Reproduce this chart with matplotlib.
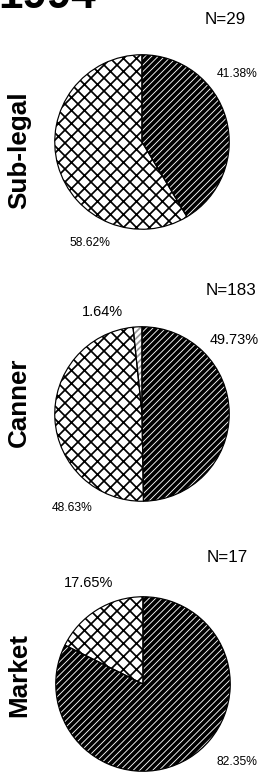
import matplotlib
matplotlib.use("Agg")
import matplotlib.pyplot as plt

# Data
year = "1994"
groups = ["Sub-legal", "Canner", "Market"]
counts = [29, 183, 17]
dark_pct = [41.38, 49.73, 82.35]
cross_pct = [58.62, 48.63, 17.65]
light_pct = [0.0, 1.64, 0.0]

W, H = 269, 774
DPI = 78
plt.rcParams["font.family"] = ["Liberation Sans", "DejaVu Sans"]

def pt(px):
	"""Convert a pixel size to points at the figure dpi."""
	return px * 72 / DPI

def fx(x):
	return x / W

def fy(y):
	return 1 - y / H

fig = plt.figure(figsize=(W / DPI, H / DPI), dpi=DPI)
fig.patch.set_facecolor("white")

# pie centres in pixels
centres = [(142, 142), (142, 414), (143, 684)]
R = 89

for i, name in enumerate(groups):
	cx, cy = centres[i]
	ax = fig.add_axes([fx(cx - R), fy(cy + R), 2 * R / W, 2 * R / H])
	vals = [dark_pct[i], cross_pct[i]]
	faces = ["black", "white"]
	hatches = ["////", "xx"]
	hcols = ["white", "black"]
	if light_pct[i] > 0:
		vals.append(light_pct[i])
		faces.append("white")
		hatches.append("////")
		hcols.append("#999999")
	wedges, _ = ax.pie(vals, startangle=90, counterclock=False, radius=1)
	for w, fc, h, hc in zip(wedges, faces, hatches, hcols):
		w.set_facecolor(fc)
		w.set_edgecolor(hc)
		w.set_hatch(h)
		w.set_linewidth(0)
		if hasattr(w, "set_hatch_linewidth"):
			w.set_hatch_linewidth(0.8 if fc == "black" else 1.6)
	# outlines drawn on top
	ax.pie(vals, startangle=90, counterclock=False, radius=1,
		wedgeprops=dict(fill=False, edgecolor="black", linewidth=1.1))
	ax.set_xlim(-1.02, 1.02)
	ax.set_ylim(-1.02, 1.02)
	ax.set_aspect("equal")
	ax.axis("off")

# row labels
label_y = [150, 402, 675]
for name, y in zip(groups, label_y):
	fig.text(fx(19), fy(y), name, rotation=90, ha="center", va="center",
		fontsize=pt(26), fontweight="bold")

# sample sizes
n_pos = [(225, 20), (231, 290), (227, 557)]
for n, (x, y) in zip(counts, n_pos):
	fig.text(fx(x), fy(y), f"N={n}", ha="center", va="center", fontsize=pt(17))

# percentage labels
fig.text(fx(237), fy(74), f"{dark_pct[0]:.2f}%", ha="center", va="center", fontsize=pt(12))
fig.text(fx(90), fy(243), f"{cross_pct[0]:.2f}%", ha="center", va="center", fontsize=pt(12))
fig.text(fx(102), fy(312), f"{light_pct[1]:.2f}%", ha="center", va="center", fontsize=pt(14.5))
fig.text(fx(234), fy(340), f"{dark_pct[1]:.2f}%", ha="center", va="center", fontsize=pt(14.5))
fig.text(fx(72), fy(508), f"{cross_pct[1]:.2f}%", ha="center", va="center", fontsize=pt(12))
fig.text(fx(89), fy(583), f"{cross_pct[2]:.2f}%", ha="center", va="center", fontsize=pt(14.5))
fig.text(fx(237), fy(762), f"{dark_pct[2]:.2f}%", ha="center", va="center", fontsize=pt(12))

# title, cut off at the top edge as in the scan
fig.text(fx(-2), fy(8), year, ha="left", va="baseline", fontsize=pt(44), fontweight="bold")

fig.savefig("out.png", dpi=DPI)
